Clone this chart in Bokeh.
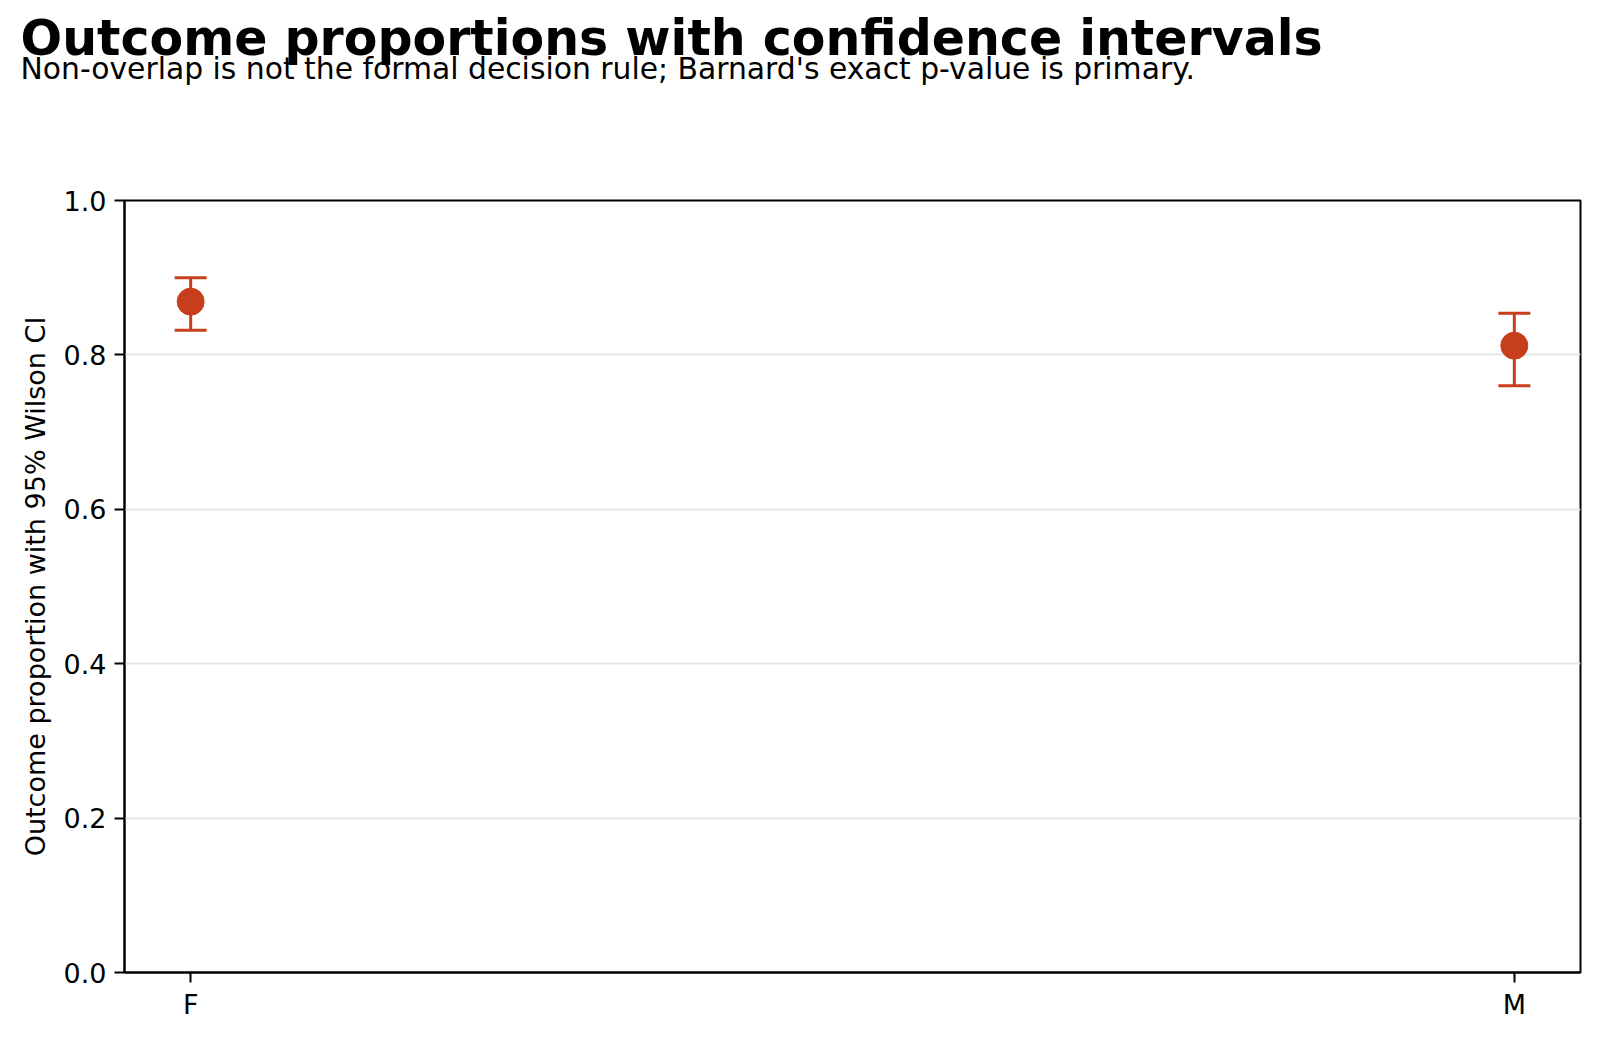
from bokeh.plotting import figure
from bokeh.models import (Range1d, FixedTicker, PrintfTickFormatter, Whisker, TeeHead,
                          ColumnDataSource, Title)
from bokeh.embed import file_html
from bokeh.resources import INLINE

# ---- data ----
groups = ["F", "M"]
proportion = [0.869, 0.812]
ci_lower = [0.832, 0.760]
ci_upper = [0.900, 0.854]
y_ticks = [0.0, 0.2, 0.4, 0.6, 0.8, 1.0]

title_text = "Outcome proportions with confidence intervals"
subtitle_text = "Non-overlap is not the formal decision rule; Barnard's exact p-value is primary."
ylabel_text = "Outcome proportion with 95% Wilson CI"

FONT = "DejaVu Sans"
RED = "#C73E1D"

xpos = list(range(len(groups)))
src = ColumnDataSource(dict(x=xpos, y=proportion, lo=ci_lower, hi=ci_upper))

p = figure(width=1600, height=1038, output_backend="svg", toolbar_location=None,
           x_range=Range1d(-0.05, 1.05), y_range=Range1d(0, 1),
           min_border_left=124, min_border_right=20, min_border_top=200,
           min_border_bottom=66)
p.title = None

# axes
p.xaxis.ticker = FixedTicker(ticks=xpos)
p.xaxis.major_label_overrides = {i: g for i, g in enumerate(groups)}
p.yaxis.ticker = FixedTicker(ticks=y_ticks)
p.yaxis.formatter = PrintfTickFormatter(format="%.1f")
p.yaxis.axis_label = ylabel_text
for ax in (p.xaxis[0], p.yaxis[0]):
    ax.axis_line_color = "black"
    ax.axis_line_width = 2
    ax.major_tick_line_color = "black"
    ax.major_tick_line_width = 2
    ax.major_tick_out = 10
    ax.major_tick_in = 0
    ax.minor_tick_line_color = None
    ax.major_label_text_font = FONT
    ax.major_label_text_font_size = "27px"
    ax.major_label_text_color = "black"
    ax.major_label_standoff = 8
p.xaxis.major_label_standoff = 6
p.yaxis.axis_label_text_font = FONT
p.yaxis.axis_label_text_font_size = "27px"
p.yaxis.axis_label_text_font_style = "normal"
p.yaxis.axis_label_text_color = "black"
p.yaxis.axis_label_standoff = 10

p.xgrid.grid_line_color = None
p.ygrid.ticker = FixedTicker(ticks=y_ticks)
p.ygrid.grid_line_color = "#e6e6e6"
p.ygrid.grid_line_width = 1.8

p.outline_line_color = "black"
p.outline_line_width = 2
p.outline_line_alpha = 1

# error bars
w = Whisker(source=src, base="x", lower="lo", upper="hi", dimension="height",
            line_color=RED, line_width=3,
            upper_head=TeeHead(size=32, line_color=RED, line_width=3),
            lower_head=TeeHead(size=32, line_color=RED, line_width=3))
w.level = "glyph"
p.add_layout(w)

p.scatter("x", "y", source=src, size=27, color=RED, line_color=RED)

# spacer, subtitle, then title (stacked outward from the frame)
p.add_layout(Title(text=" ", align="left", standoff=112,
                   text_font=FONT, text_font_size="1px"), "above")
p.add_layout(Title(text=subtitle_text, align="left", offset=-104, standoff=0,
                   text_font=FONT, text_font_size="29.8px", text_font_style="normal",
                   text_color="black"), "above")
p.add_layout(Title(text=title_text, align="left", offset=-104, standoff=-37,
                   text_font=FONT, text_font_size="49px", text_font_style="bold",
                   text_color="black"), "above")

open("out.html", "w").write(file_html(p, INLINE))
